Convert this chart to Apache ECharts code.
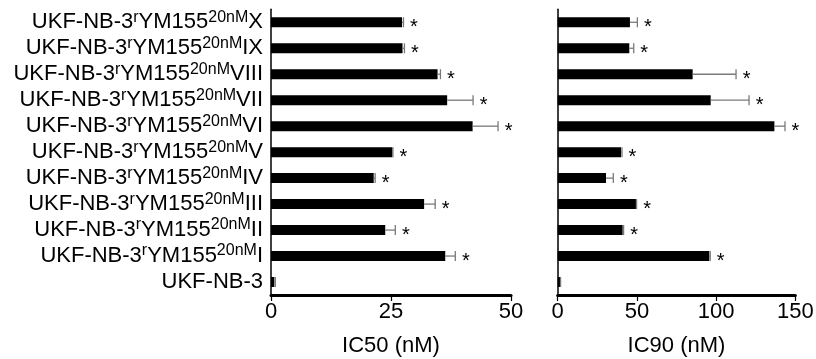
<!DOCTYPE html>
<html>
<head>
<meta charset="utf-8">
<script src="https://cdn.jsdelivr.net/npm/echarts@6/dist/echarts.min.js"></script>
<style>
html,body{margin:0;padding:0;background:#fff;}
#c{width:816px;height:359px;}
</style>
</head>
<body>
<div id="c"></div>
<script>
// Cell lines, bottom to top (suffix after "UKF-NB-3rYM155 20nM")
const lines = ['', 'I', 'II', 'III', 'IV', 'V', 'VI', 'VII', 'VIII', 'IX', 'X'];
const ic50 = [0.7, 36.3, 23.8, 31.9, 21.4, 25.3, 42.0, 36.7, 34.7, 27.4, 27.3];
const ic50Err = [0.2, 2.1, 2.1, 2.3, 0.3, 0.1, 5.3, 5.4, 0.6, 0.4, 0.3];
const ic90 = [1.5, 95.7, 41.0, 49.4, 30.5, 40.0, 136.8, 96.6, 85.2, 45.2, 45.6];
const ic90Err = [0.3, 0.6, 0.6, 0.4, 4.6, 0.6, 6.7, 24.2, 27.4, 2.8, 4.7];
const sig = ['', '*', '*', '*', '*', '*', '*', '*', '*', '*', '*'];
const ic50Ticks = [0, 25, 50];
const ic90Ticks = [0, 50, 100, 150];

const FONT = '"Liberation Sans", Arial, sans-serif';
const categories = lines.map((s, i) => 'c' + i);

function labelFmt(v, i) {
  const suf = lines[i];
  if (!suf) return '{a|UKF-NB-3}';
  return '{a|UKF-NB-3}{s|r}{a|YM155}{s|20nM}{a|' + suf + '}';
}

function errData(vals, errs) {
  return vals.map((v, i) => [v, v + errs[i], i]);
}

function renderErr(params, api) {
  const v = api.value(0), up = api.value(1), idx = api.value(2);
  const p0 = api.coord([v, idx]);
  const p1 = api.coord([up, idx]);
  const half = 5;
  const st = { stroke: '#7a7a7a', lineWidth: 1.3 };
  const children = [
    { type: 'line', shape: { x1: p0[0], y1: p0[1], x2: p1[0], y2: p1[1] }, style: st },
    { type: 'line', shape: { x1: p1[0], y1: p1[1] - half, x2: p1[0], y2: p1[1] + half }, style: st }
  ];
  const t = sig[params.dataIndex];
  if (t) {
    children.push({ type: 'text', style: { text: t, x: p1[0] + 10.5, y: p1[1] + 5, fontSize: 20, fontFamily: FONT, fill: '#000', align: 'center', verticalAlign: 'middle' } });
  }
  return { type: 'group', children };
}

function xAxisCfg(idx, max, interval, name) {
  return {
    type: 'value', gridIndex: idx, min: 0, max: max, interval: interval,
    name: name, nameLocation: 'middle', nameGap: 40,
    nameTextStyle: { fontSize: 22, fontFamily: FONT, color: '#000' },
    axisLine: { show: true, lineStyle: { color: '#000', width: 3 } },
    axisTick: { show: true, length: 6, lineStyle: { color: '#000', width: 1.2 } },
    axisLabel: { fontSize: 22, fontFamily: FONT, color: '#000', margin: 6 },
    splitLine: { show: false }
  };
}

function yAxisCfg(idx, showLabels) {
  return {
    type: 'category', gridIndex: idx, data: categories,
    axisLine: { show: true, lineStyle: { color: '#000', width: 1.5 } },
    axisTick: { show: false },
    axisLabel: {
      show: showLabels, margin: 8, formatter: labelFmt,
      rich: {
        a: { fontSize: 22, fontFamily: FONT, color: '#000', lineHeight: 26 },
        s: { fontSize: 16, fontFamily: FONT, color: '#000', lineHeight: 16, verticalAlign: 'top' }
      }
    },
    splitLine: { show: false }
  };
}

const chart = echarts.init(document.getElementById('c'), null, { renderer: 'canvas' });
chart.setOption({
  animation: false,
  backgroundColor: '#fff',
  grid: [
    { left: 271, top: 9.3, width: 240, height: 285.7, containLabel: false, outerBoundsMode: 'none' },
    { left: 557.7, top: 9.3, width: 237.6, height: 285.7, containLabel: false, outerBoundsMode: 'none' }
  ],
  xAxis: [xAxisCfg(0, 50, 25, 'IC50 (nM)'), xAxisCfg(1, 150, 50, 'IC90 (nM)')],
  yAxis: [yAxisCfg(0, true), yAxisCfg(1, false)],
  series: [
    { type: 'bar', xAxisIndex: 0, yAxisIndex: 0, data: ic50, barWidth: 10, itemStyle: { color: '#000' } },
    { type: 'bar', xAxisIndex: 1, yAxisIndex: 1, data: ic90, barWidth: 10, itemStyle: { color: '#000' } },
    { type: 'custom', xAxisIndex: 0, yAxisIndex: 0, z: 3, data: errData(ic50, ic50Err), encode: { x: [0, 1], y: 2 }, renderItem: renderErr },
    { type: 'custom', xAxisIndex: 1, yAxisIndex: 1, z: 3, data: errData(ic90, ic90Err), encode: { x: [0, 1], y: 2 }, renderItem: renderErr }
  ]
});
</script>
</body>
</html>
